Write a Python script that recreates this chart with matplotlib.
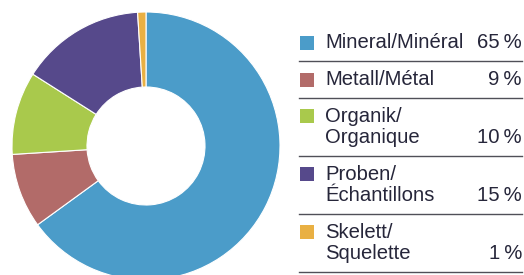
import matplotlib
matplotlib.use("Agg")
import matplotlib.pyplot as plt
from matplotlib.lines import Line2D
from matplotlib.patches import Rectangle

labels = ["Mineral/Minéral", "Metall/Métal", "Organik/\nOrganique", "Proben/\nÉchantillons", "Skelett/\nSquelette"]
values = [65, 9, 10, 15, 1]
pct_labels = ["65\u2009%", "9\u2009%", "10\u2009%", "15\u2009%", "1\u2009%"]
colors = ["#4b9cc9", "#b26b69", "#a9c94c", "#56498b", "#e9b043"]

W, H = 524, 275
fig = plt.figure(figsize=(W / 100, H / 100), dpi=100)
fig.patch.set_facecolor("white")

# donut
cx, cy, r_out, r_in = 146, 146, 134, 59
ax = fig.add_axes([(cx - r_out) / W, (H - cy - r_out) / H, 2 * r_out / W, 2 * r_out / H])
ax.pie(values, colors=colors, startangle=90, counterclock=False, radius=1,
       wedgeprops=dict(width=(r_out - r_in) / r_out, edgecolor="white", linewidth=0.8))
ax.set_xlim(-1, 1)
ax.set_ylim(-1, 1)
ax.set_aspect("equal")
ax.axis("off")

def fx(x):
    return x / W

def fy(y):
    return 1 - y / H

text_color = "#26263a"
font = dict(family=["Liberation Sans", "DejaVu Sans"], fontsize=14.6, color=text_color)

prev = 24.5
for lab, pct, col in zip(labels, pct_labels, colors):
    lines = lab.split("\n")
    first = prev + 18.5
    for k, ln in enumerate(lines):
        fig.text(fx(325), fy(first + 21.5 * k), ln, ha="left", va="center", **font)
    last = first + 21.5 * (len(lines) - 1)
    fig.text(fx(522), fy(last), pct, ha="right", va="center", **font)
    sq = 14
    fig.patches.append(Rectangle((fx(299.5), fy(first + sq / 2)), sq / W, sq / H,
                                 transform=fig.transFigure, facecolor=col, edgecolor="none"))
    sep = last + 18
    fig.lines.append(Line2D([fx(299), fx(522)], [fy(sep), fy(sep)], transform=fig.transFigure,
                            color="#505058", linewidth=1.0))
    prev = sep

fig.savefig("out.png", dpi=100, facecolor="white")
